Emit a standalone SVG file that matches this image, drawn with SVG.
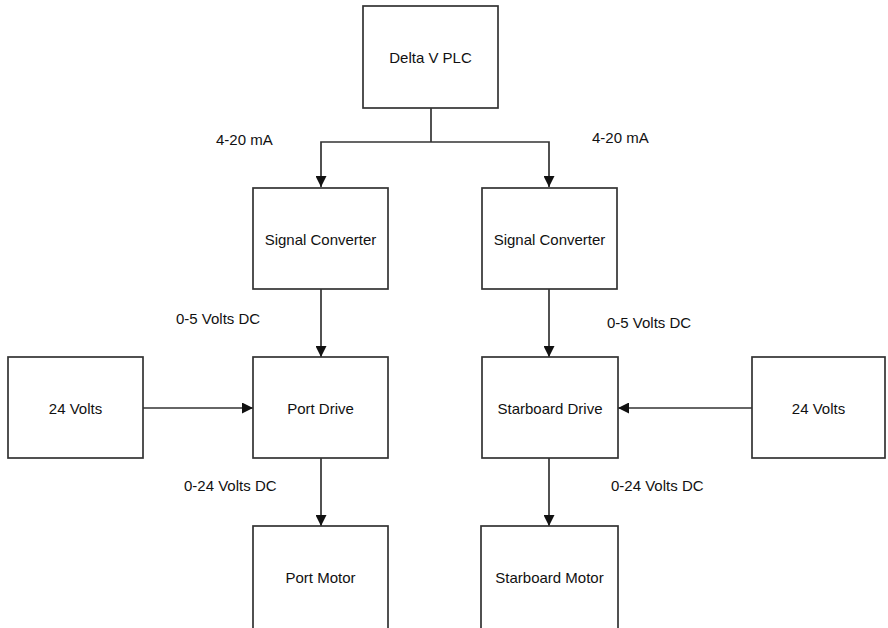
<svg xmlns="http://www.w3.org/2000/svg" width="888" height="628" viewBox="0 0 888 628">
<style>
.box{fill:#fff;stroke:#333;stroke-width:1.7}
.t{font-family:"Liberation Sans",Arial,sans-serif;font-size:15px;fill:#111;text-anchor:middle;dominant-baseline:central}
.l{font-family:"Liberation Sans",Arial,sans-serif;font-size:15px;fill:#111}
.c{fill:none;stroke:#333;stroke-width:1.7}
</style>
<defs>
<marker id="ah" viewBox="0 0 10 10" refX="10" refY="5" markerWidth="11" markerHeight="11" markerUnits="userSpaceOnUse" orient="auto">
<path d="M0,0 L10,5 L0,10 Z" fill="#111"/>
</marker>
</defs>
<rect width="888" height="628" fill="#fff"/>
<g id="connectors">
<path class="c" d="M431,108 V142"/>
<path class="c" d="M431,142 H321 V187" marker-end="url(#ah)"/>
<path class="c" d="M431,142 H549 V187" marker-end="url(#ah)"/>
<path class="c" d="M321,289 V357" marker-end="url(#ah)"/>
<path class="c" d="M549,289 V357" marker-end="url(#ah)"/>
<path class="c" d="M143,408 H253" marker-end="url(#ah)"/>
<path class="c" d="M752,408 H618" marker-end="url(#ah)"/>
<path class="c" d="M321,458 V526" marker-end="url(#ah)"/>
<path class="c" d="M549,458 V526" marker-end="url(#ah)"/>
</g>
<g id="labels">
<text class="l" x="216" y="145">4-20 mA</text>
<text class="l" x="592" y="143">4-20 mA</text>
<text class="l" x="176" y="324">0-5 Volts DC</text>
<text class="l" x="607" y="328">0-5 Volts DC</text>
<text class="l" x="184" y="491">0-24 Volts DC</text>
<text class="l" x="611" y="491">0-24 Volts DC</text>
</g>
<g id="plc"><rect class="box" x="363" y="6" width="135" height="102"/><text class="t" x="430.5" y="57">Delta V PLC</text></g>
<g id="sc-left"><rect class="box" x="253" y="188" width="135" height="101"/><text class="t" x="320.5" y="239">Signal Converter</text></g>
<g id="sc-right"><rect class="box" x="482" y="188" width="135" height="101"/><text class="t" x="549.5" y="239">Signal Converter</text></g>
<g id="v24-left"><rect class="box" x="8" y="357" width="135" height="101"/><text class="t" x="75.5" y="408">24 Volts</text></g>
<g id="port-drive"><rect class="box" x="253" y="357" width="135" height="101"/><text class="t" x="320.5" y="408">Port Drive</text></g>
<g id="starboard-drive"><rect class="box" x="482" y="357" width="136" height="101"/><text class="t" x="550" y="408">Starboard Drive</text></g>
<g id="v24-right"><rect class="box" x="752" y="357" width="133" height="101"/><text class="t" x="818.5" y="408">24 Volts</text></g>
<g id="port-motor"><rect class="box" x="253" y="526" width="135" height="106"/><text class="t" x="320.5" y="577">Port Motor</text></g>
<g id="starboard-motor"><rect class="box" x="481" y="526" width="137" height="106"/><text class="t" x="549.5" y="577">Starboard Motor</text></g>
</svg>
